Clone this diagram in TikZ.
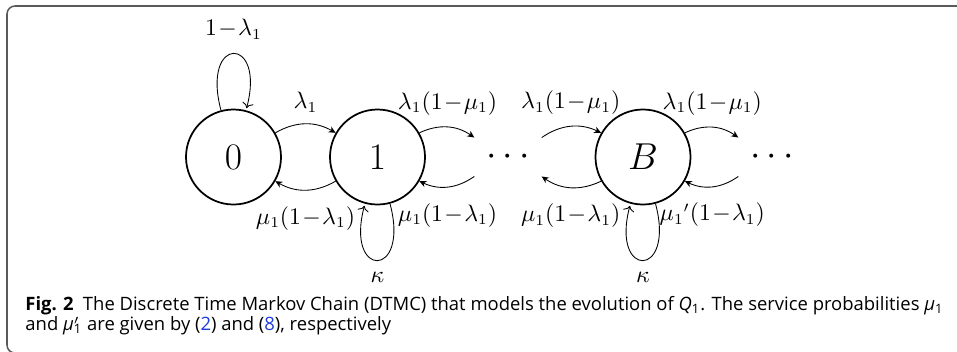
\documentclass[tikz,border=0pt]{standalone}
\usepackage{fontspec}
\newfontfamily\capfont{Open Sans}
\usetikzlibrary{arrows.meta}
\definecolor{framegray}{RGB}{90,90,90}
\definecolor{linkblue}{RGB}{30,60,220}
\medmuskip=1mu
\tikzset{
    qstate/.style={draw, circle, line width=0.8pt, minimum size=43.8pt,
                   inner sep=0pt, font=\LARGE},
    dotnode/.style={circle, minimum size=35.5pt, inner sep=0pt, font=\LARGE},
    lbl/.style={font=\fontsize{10.5}{12}\selectfont},
}

\begin{document}
\begin{tikzpicture}[
    x=0.461pt, y=0.461pt,
    arr/.style={-{Stealth[length=3.2pt, width=3pt]}},
]
    \useasboundingbox (0,0) rectangle (957,351);
    \clip (0,0) rectangle (957,351);
    \draw[framegray, line width=0.7pt, rounded corners=3.7pt]
        (965,345) -- (7,345) -- (7,-2) -- (40,-2);

    % states
    \node[qstate] (q0) at (233.5,194) {$0$};
    \node[qstate] (q1) at (377.5,194) {$1$};
    \node[dotnode] (d1) at (508,194) {$\cdots$};
    \node[qstate] (qB) at (643,194) {$B$};
    \node[dotnode] (d2) at (772,194) {$\cdots$};

    % transitions
    \draw[arr] (q0) to[bend left] node[lbl, above=2pt] {$\lambda_1$} (q1);
    \draw[arr] (q1) to[bend left] node[lbl, below=4pt] {$\mu_1(1-\lambda_1)$} (q0);
    \draw[arr] (q1) to[bend left] node[lbl, above=2pt] {$\lambda_1(1-\mu_1)$} (d1);
    \draw[arr] (d1) to[bend left] node[lbl, below=4pt] {$\mu_1(1-\lambda_1)$} (q1);
    \draw[arr] (d1) to[bend left] node[lbl, above=2pt] {$\lambda_1(1-\mu_1)$} (qB);
    \draw[arr] (qB) to[bend left] node[lbl, below=4pt] {$\mu_1(1-\lambda_1)$} (d1);
    \draw[arr] (qB) to[bend left] node[lbl, above=2pt] {$\lambda_1(1-\mu_1)$} (d2);
    \draw[arr] (d2) to[bend left] node[lbl, below=4pt] {${\mu_1}'(1-\lambda_1)$} (qB);

    % self loops
    \path (q0) edge[arr, loop above] node[lbl, above=3pt] {$1-\lambda_1$} ();
    \path (q1) edge[arr, loop below] node[lbl, below=2pt] {$\kappa$} ();
    \path (qB) edge[arr, loop below] node[lbl, below=2pt] {$\kappa$} ();

    % caption
    \node[font=\capfont\fontsize{8.5}{9.2}\selectfont, align=left,
          anchor=north west, inner sep=0pt] (cap) at (25,55)
        {\textbf{Fig. 2}\enspace The Discrete Time Markov Chain (DTMC) that models the evolution of \textit{Q}\textsubscript{1}. The service probabilities \textit{μ}\textsubscript{1}\\
         and \textit{μ}\rlap{$^{\prime}$}\textsubscript{1} are given by (\textcolor{linkblue}{2}) and (\textcolor{linkblue}{8}), respectively};
\end{tikzpicture}
\end{document}
